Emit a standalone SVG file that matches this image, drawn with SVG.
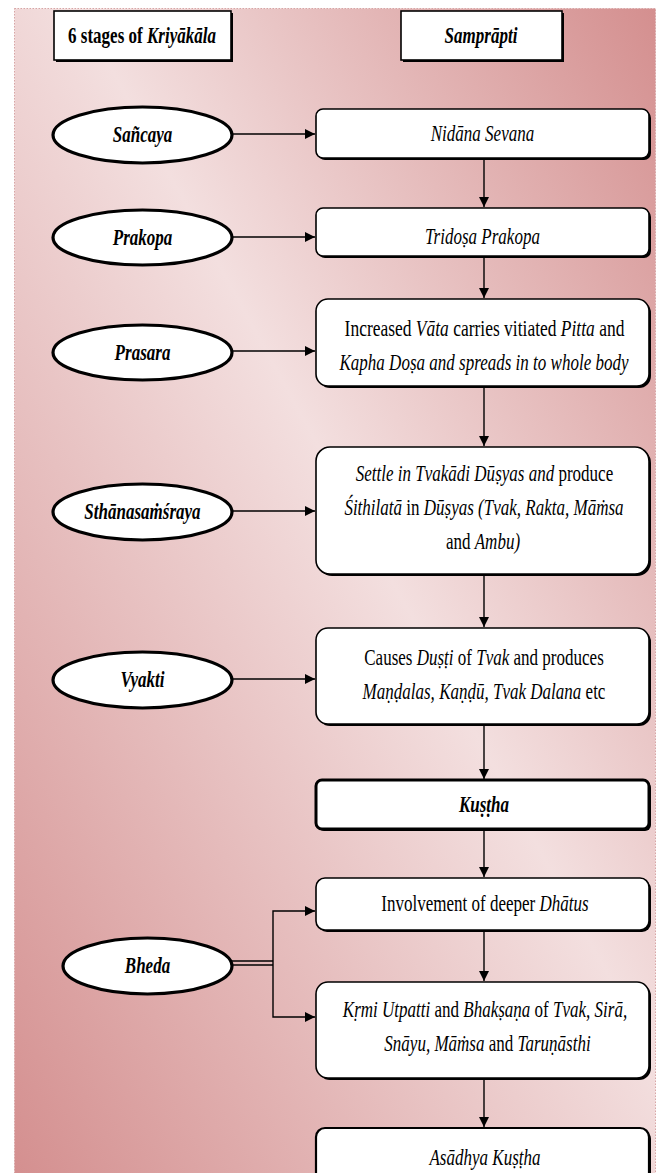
<svg xmlns="http://www.w3.org/2000/svg" width="660" height="1173" viewBox="0 0 660 1173">
<defs>
<linearGradient id="bg" x1="1" y1="0" x2="0" y2="1">
<stop offset="0" stop-color="#d48f8f"/>
<stop offset="0.45" stop-color="#f3dfdf"/>
<stop offset="1" stop-color="#d48f8f"/>
</linearGradient>
<marker id="ah" viewBox="0 0 10 10" refX="10" refY="5" markerWidth="10" markerHeight="10" markerUnits="userSpaceOnUse" orient="auto">
<path d="M0,0 L10,5 L0,10 Z" fill="#000"/>
</marker>
</defs>
<style>
.t{font-family:"Liberation Serif","Times New Roman",serif;font-size:23px;fill:#000;text-anchor:middle}
.i{font-style:italic}
.b{font-weight:bold}
.bx{fill:#fff;stroke:#000;stroke-width:1.6}
.sh{fill:#000}
.el{fill:#fff;stroke:#000;stroke-width:3.2}
.ln{fill:none;stroke:#000;stroke-width:1.4}
.ar{fill:none;stroke:#000;stroke-width:1.4;marker-end:url(#ah)}
</style>
<rect x="14.5" y="8.5" width="641" height="1170" fill="url(#bg)" stroke="#d7a5a5" stroke-width="1" stroke-dasharray="1.5,1.5"/>

<g id="header1">
<rect class="sh" x="56" y="13" width="177" height="49"/>
<rect class="bx" x="54" y="11" width="177" height="49"/>
<text class="t b" transform="translate(142,43) scale(0.74,1)">6 stages of <tspan class="i">Kriyākāla</tspan></text>
</g>
<g id="header2">
<rect class="sh" x="403" y="13" width="161" height="49"/>
<rect class="bx" x="401" y="11" width="161" height="49"/>
<text class="t b i" transform="translate(481,43) scale(0.74,1)">Samprāpti</text>
</g>

<g id="sancaya">
<ellipse class="el" cx="142.5" cy="135" rx="89.5" ry="28"/>
<text class="t b i" transform="translate(142.5,142) scale(0.74,1)">Sañcaya</text>
</g>
<g id="prakopa">
<ellipse class="el" cx="142.5" cy="237.5" rx="89.5" ry="27.5"/>
<text class="t b i" transform="translate(142.5,245) scale(0.74,1)">Prakopa</text>
</g>
<g id="prasara">
<ellipse class="el" cx="142.5" cy="352.5" rx="89.5" ry="27.5"/>
<text class="t b i" transform="translate(142.5,360) scale(0.74,1)">Prasara</text>
</g>
<g id="sthana">
<ellipse class="el" cx="142.5" cy="512" rx="89.5" ry="28"/>
<text class="t b i" transform="translate(142.5,519) scale(0.74,1)">Sthānasaṁśraya</text>
</g>
<g id="vyakti">
<ellipse class="el" cx="142.5" cy="680" rx="89.5" ry="28"/>
<text class="t b i" transform="translate(142.5,687) scale(0.74,1)">Vyakti</text>
</g>
<g id="bheda">
<ellipse class="el" cx="147.5" cy="966" rx="84.5" ry="28"/>
<text class="t b i" transform="translate(147.5,973) scale(0.74,1)">Bheda</text>
</g>

<g id="box1">
<rect class="sh" x="318" y="111" width="333" height="49" rx="7"/>
<rect class="bx" x="316" y="109" width="333" height="49" rx="7"/>
<text class="t i" transform="translate(482.5,141) scale(0.74,1)">Nidāna Sevana</text>
</g>
<g id="box2">
<rect class="sh" x="318" y="210" width="333" height="48" rx="7"/>
<rect class="bx" x="316" y="208" width="333" height="48" rx="7"/>
<text class="t i" transform="translate(482.5,244) scale(0.74,1)">Tridoṣa Prakopa</text>
</g>
<g id="box3">
<rect class="sh" x="318" y="301" width="333" height="87" rx="12"/>
<rect class="bx" x="316" y="299" width="333" height="87" rx="12"/>
<text class="t" transform="translate(484.5,336) scale(0.76,1)">Increased <tspan class="i">Vāta</tspan> carries vitiated <tspan class="i">Pitta</tspan> and</text>
<text class="t i" transform="translate(484,370) scale(0.74,1)">Kapha Doṣa and spreads in to whole body</text>
</g>
<g id="box4">
<rect class="sh" x="318" y="449" width="333" height="127" rx="14"/>
<rect class="bx" x="316" y="447" width="333" height="127" rx="14"/>
<text class="t" transform="translate(484.5,481) scale(0.74,1)"><tspan class="i">Settle in Tvakādi Dūṣyas and</tspan> produce</text>
<text class="t" transform="translate(484,515) scale(0.74,1)"><tspan class="i">Śithilatā</tspan> in <tspan class="i">Dūṣyas (Tvak, Rakta, Māṁsa</tspan></text>
<text class="t" transform="translate(483,549) scale(0.74,1)">and <tspan class="i">Ambu)</tspan></text>
</g>
<g id="box5">
<rect class="sh" x="318" y="630" width="333" height="96" rx="12"/>
<rect class="bx" x="316" y="628" width="333" height="96" rx="12"/>
<text class="t" transform="translate(484,665) scale(0.74,1)">Causes <tspan class="i">Duṣṭi</tspan> of <tspan class="i">Tvak</tspan> and produces</text>
<text class="t" transform="translate(484,699) scale(0.74,1)"><tspan class="i">Maṇḍalas, Kaṇḍū, Tvak Dalana</tspan> etc</text>
</g>
<g id="kustha">
<rect class="sh" x="318" y="782" width="333" height="49" rx="6"/>
<rect class="bx" x="316" y="780" width="333" height="49" rx="6" style="stroke-width:3"/>
<text class="t b i" transform="translate(484,812) scale(0.74,1)">Kuṣṭha</text>
</g>
<g id="box7">
<rect class="sh" x="318" y="880" width="333" height="52" rx="9"/>
<rect class="bx" x="316" y="878" width="333" height="52" rx="9"/>
<text class="t" transform="translate(485,911) scale(0.74,1)">Involvement of deeper <tspan class="i">Dhātus</tspan></text>
</g>
<g id="box8">
<rect class="sh" x="318" y="984" width="333" height="96" rx="12"/>
<rect class="bx" x="316" y="982" width="333" height="96" rx="12"/>
<text class="t" transform="translate(485,1017) scale(0.74,1)"><tspan class="i">Kṛmi Utpatti</tspan> and <tspan class="i">Bhakṣaṇa</tspan> of <tspan class="i">Tvak, Sirā,</tspan></text>
<text class="t" transform="translate(487.5,1051) scale(0.74,1)"><tspan class="i">Snāyu, Māṁsa</tspan> and <tspan class="i">Taruṇāsthi</tspan></text>
</g>
<g id="box9">
<rect class="sh" x="318" y="1130" width="333" height="60" rx="9"/>
<rect class="bx" x="316" y="1128" width="333" height="60" rx="9" style="stroke-width:2.2"/>
<text class="t i" transform="translate(485,1165) scale(0.74,1)">Asādhya Kuṣṭha</text>
</g>

<g id="connectors">
<line class="ar" x1="232" y1="134" x2="315" y2="134"/>
<line class="ar" x1="232" y1="237" x2="315" y2="237"/>
<line class="ar" x1="232" y1="351" x2="315" y2="351"/>
<line class="ar" x1="232" y1="511" x2="315" y2="511"/>
<line class="ar" x1="232" y1="679" x2="315" y2="679"/>
<line class="ar" x1="484" y1="159" x2="484" y2="207"/>
<line class="ar" x1="484" y1="257" x2="484" y2="298"/>
<line class="ar" x1="484" y1="387" x2="484" y2="446"/>
<line class="ar" x1="484" y1="575" x2="484" y2="627"/>
<line class="ar" x1="484" y1="725" x2="484" y2="779"/>
<line class="ar" x1="484" y1="830" x2="484" y2="877"/>
<line class="ar" x1="484" y1="931" x2="484" y2="981"/>
<line class="ar" x1="484" y1="1079" x2="484" y2="1127"/>
<line class="ln" x1="232" y1="961" x2="273" y2="961"/>
<line class="ln" x1="232" y1="965" x2="273" y2="965"/>
<polyline class="ar" points="273,963 273,911 315,911"/>
<polyline class="ar" points="273,963 273,1017 315,1017"/>
</g>
</svg>
